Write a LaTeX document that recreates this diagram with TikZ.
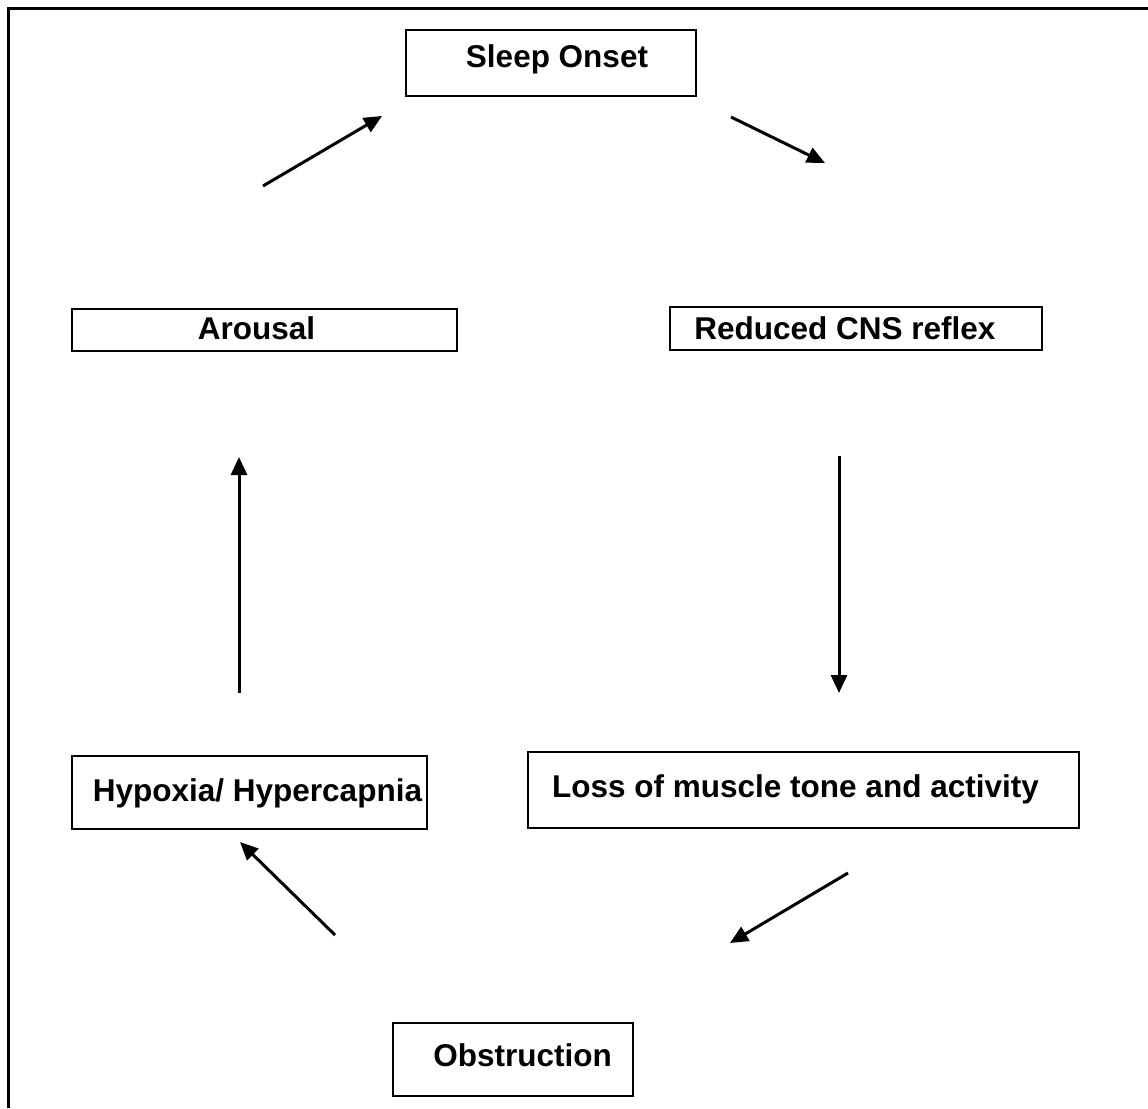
\documentclass[tikz,border=0pt]{standalone}
\usepackage{fontspec}
\setmainfont{Liberation Sans}
\usetikzlibrary{arrows.meta,positioning}
\tikzstyle{box}=[draw,line width=1.8pt,inner sep=0pt,text height=23pt,text depth=6pt,font=\fontsize{31.5}{36}\selectfont\bfseries]
\tikzstyle{flow}=[line width=3pt,-{Triangle[length=18pt,width=16pt]}]

\begin{document}
\begin{tikzpicture}[x=1pt,y=-1pt]
  \useasboundingbox (0,0) rectangle (1148,1108);
  \draw[line width=3pt] (1148,9) -- (8,9) -- (8,1108);

  \node[box,minimum width=290pt,minimum height=66pt,text depth=14pt] (onset) at (551,63) {\hspace*{12pt}Sleep Onset};
  \node[box,minimum width=385pt,minimum height=42pt,text depth=4pt] (arousal) at (264.5,330) {\hspace*{-16pt}Arousal};
  \node[box,minimum width=372pt,minimum height=43pt,text depth=2pt] (cns) at (856,328.5) {\hspace*{-22pt}Reduced CNS reflex};
  \node[box,minimum width=355pt,minimum height=73pt] (hypoxia) at (249.5,792.5) {\hspace*{16pt}Hypoxia/ Hypercapnia};
  \node[box,minimum width=551pt,minimum height=76pt,text depth=8pt] (tone) at (803.5,790) {\hspace*{-16pt}Loss of muscle tone and activity};
  \node[box,minimum width=240pt,minimum height=73pt,text depth=9pt] (obstruction) at (513,1059.5) {\hspace*{19pt}Obstruction};

  \coordinate (arousal-out) at (263,186);
  \coordinate (onset-in) at (382,116);
  \coordinate (onset-out) at (731,117);
  \coordinate (cns-in) at (825,163);
  \coordinate (cns-out) at (839,456);
  \coordinate (tone-in) at (839,693);
  \coordinate (tone-out) at (848,873);
  \coordinate (obstruction-in) at (730,943);
  \coordinate (obstruction-out) at (335,935);
  \coordinate (hypoxia-in) at (240,842);
  \coordinate (hypoxia-out) at (239,693);
  \coordinate (arousal-in) at (239,457);

  \draw[flow] (arousal-out) -- (onset-in);
  \draw[flow] (onset-out) -- (cns-in);
  \draw[flow] (cns-out) -- (tone-in);
  \draw[flow] (tone-out) -- (obstruction-in);
  \draw[flow] (obstruction-out) -- (hypoxia-in);
  \draw[flow] (hypoxia-out) -- (arousal-in);
\end{tikzpicture}
\end{document}
